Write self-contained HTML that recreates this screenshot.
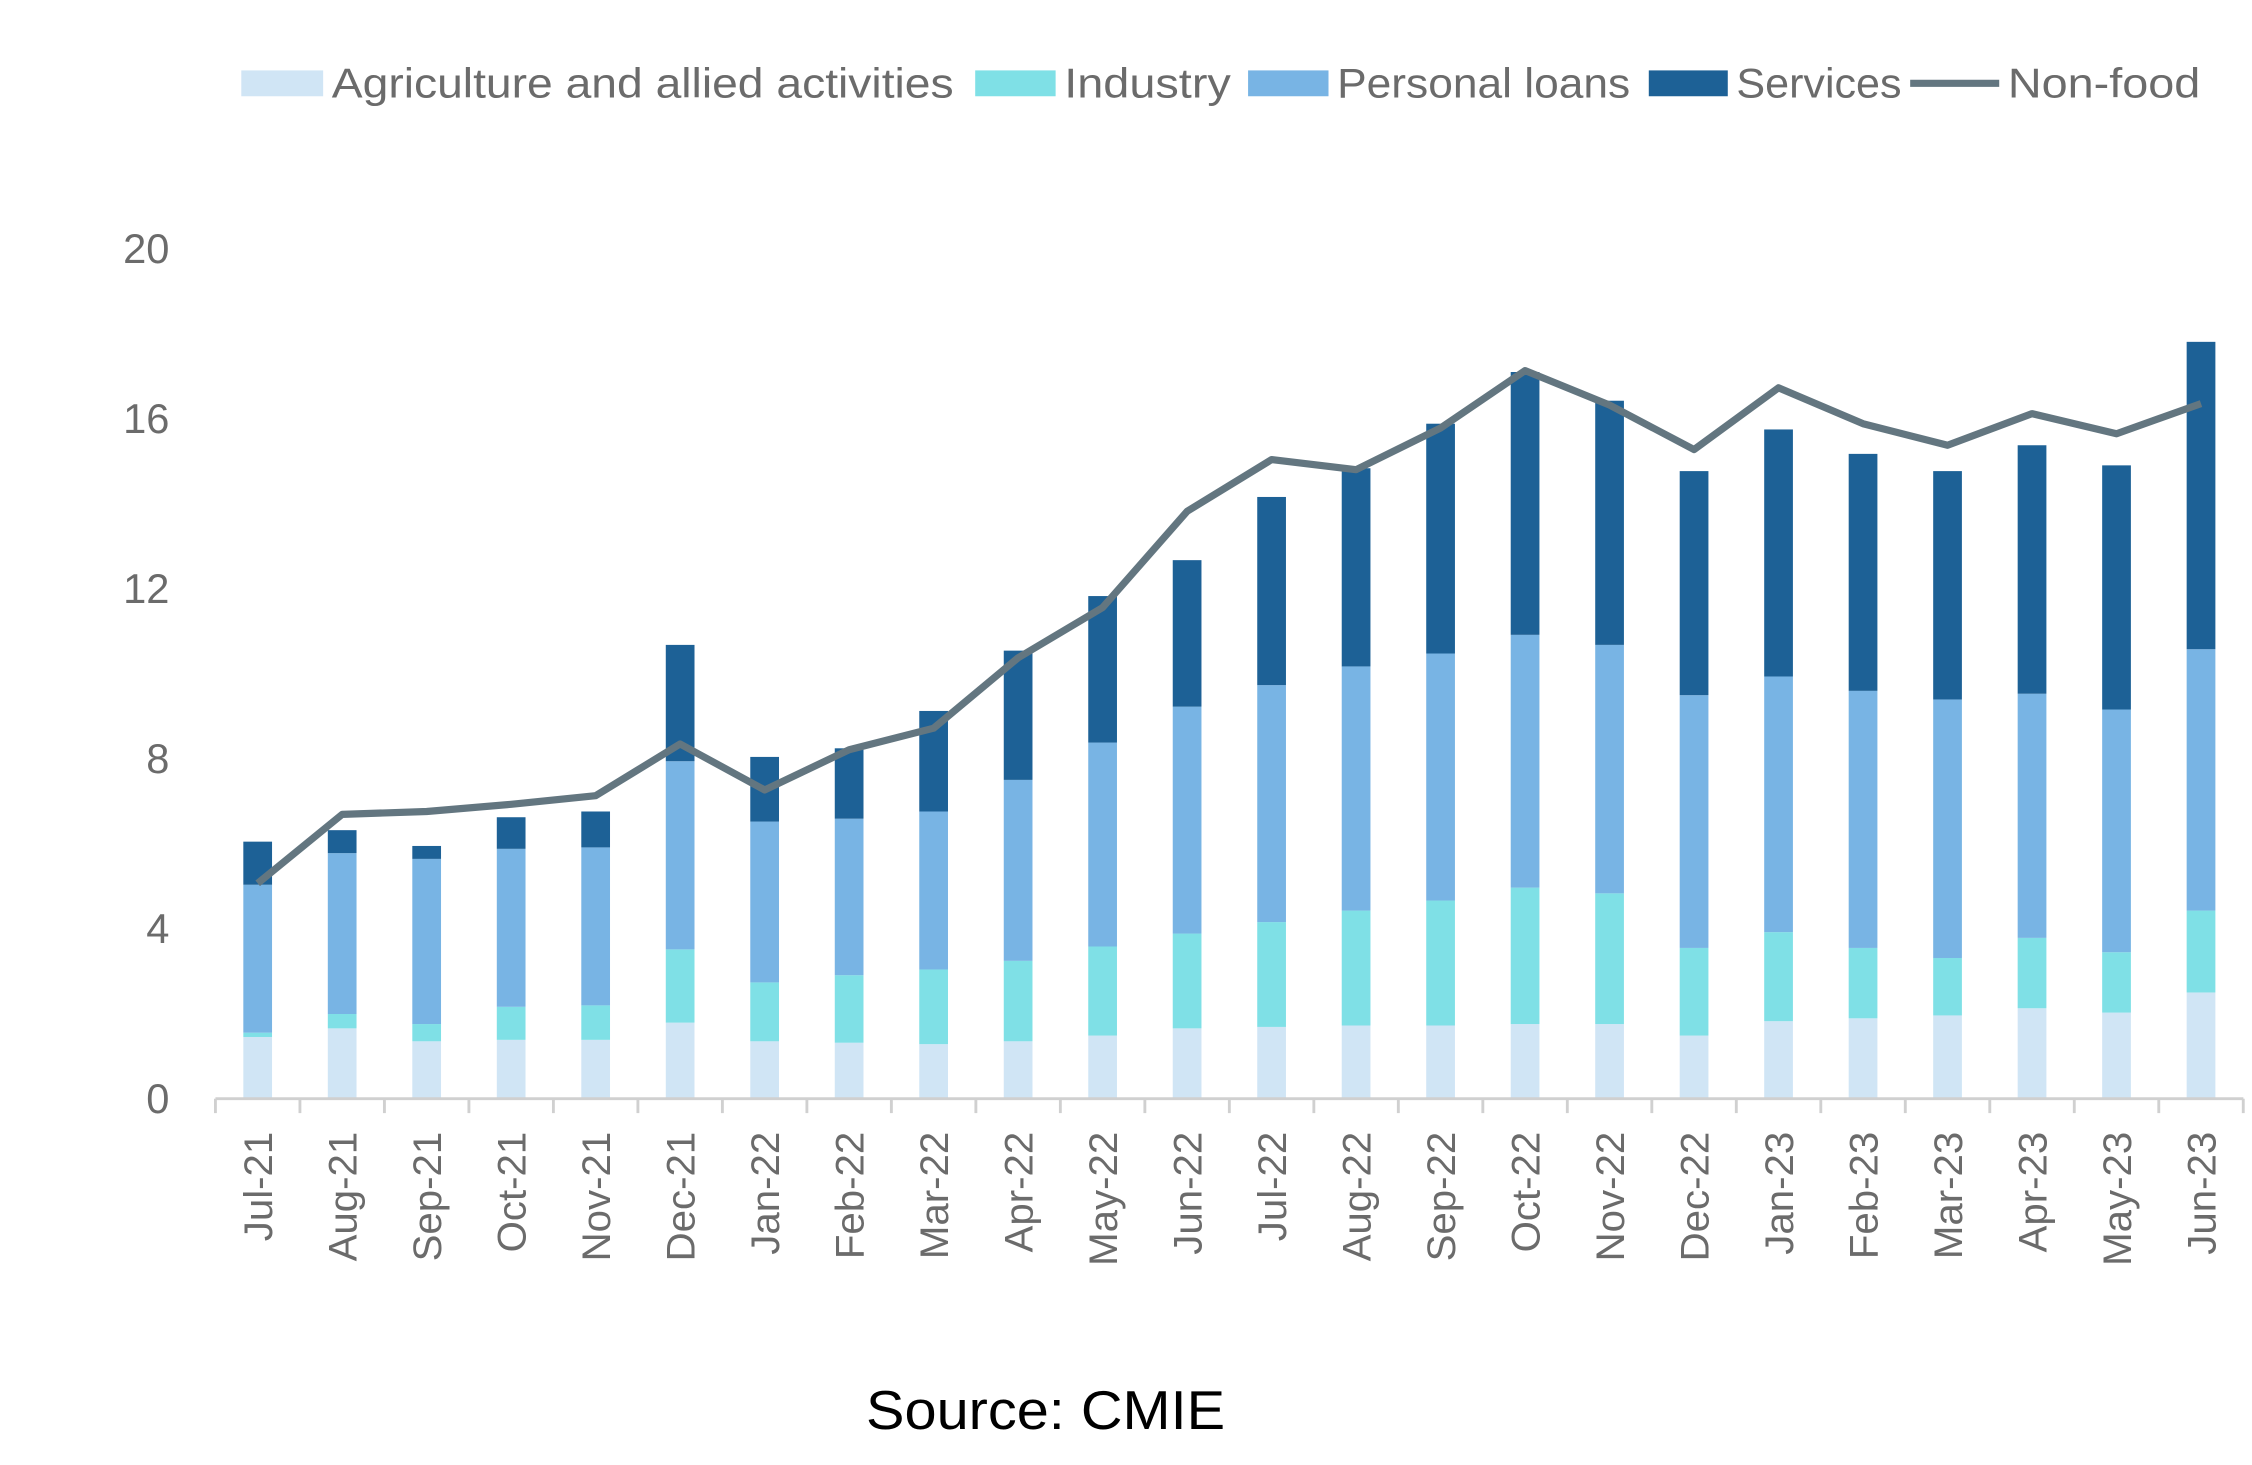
<!DOCTYPE html>
<html><head><meta charset="utf-8"><style>html,body{margin:0;padding:0;background:#fff}svg{display:block}</style></head>
<body>
<svg id="c" xmlns="http://www.w3.org/2000/svg" width="2252" height="1465" viewBox="0 0 1568 1020" font-family="Liberation Sans, sans-serif">
<rect width="1568" height="1020" fill="#fff"/>
<g font-size="29" fill="#6b6b6b">
<rect x="168" y="49" width="57" height="18" fill="#d0e5f5"/>
<text x="231" y="68" textLength="433" lengthAdjust="spacingAndGlyphs">Agriculture and allied activities</text>
<rect x="679" y="49" width="56" height="18" fill="#7fe0e6"/>
<text x="741" y="68" textLength="116" lengthAdjust="spacingAndGlyphs">Industry</text>
<rect x="869" y="49" width="56" height="18" fill="#78b4e4"/>
<text x="931" y="68" textLength="204" lengthAdjust="spacingAndGlyphs">Personal loans</text>
<rect x="1148" y="49" width="55" height="18" fill="#1d6196"/>
<text x="1209" y="68" textLength="115" lengthAdjust="spacingAndGlyphs">Services</text>
<line x1="1330" y1="58" x2="1392" y2="58" stroke="#637680" stroke-width="5"/>
<text x="1398" y="68" textLength="134" lengthAdjust="spacingAndGlyphs">Non-food</text>
</g>
<g id="bars"></g>
<line x1="150" y1="765" x2="1562" y2="765" stroke="#d0d0d0" stroke-width="2"/>
<g id="ticks"></g>
<g id="ylab" font-size="29" fill="#6b6b6b" text-anchor="end"></g>
<polyline id="ln" fill="none" stroke="#637680" stroke-width="5" stroke-linejoin="round"/>
<g id="xlab" font-size="28" fill="#6b6b6b"></g>
<text x="603" y="995" font-size="38" fill="#000" textLength="250" lengthAdjust="spacingAndGlyphs">Source: CMIE</text>
</svg>
<script>
var d=[[722,719,616,586,615],[716,706,594,578,567],[725,713,598,589,565],[724,701,591,569,560],[724,700,590,565,554],[712,661,530,449,518],[725,684,572,527,550],[726,679,570,521,522],[727,675,565,495,507],[725,669,543,453,458],[721,659,517,415,423],[716,650,492,390,356],[715,642,477,346,320],[714,634,464,326,327],[714,627,455,295,298],[713,618,442,259,258],[713,622,449,279,282],[721,660,484,328,313],[711,649,471,299,270],[709,660,481,316,295],[707,667,487,328,310],[702,653,483,310,288],[705,663,494,324,302],[691,634,452,238,281]];
var lab=["Jul-21","Aug-21","Sep-21","Oct-21","Nov-21","Dec-21","Jan-22","Feb-22","Mar-22","Apr-22","May-22","Jun-22","Jul-22","Aug-22","Sep-22","Oct-22","Nov-22","Dec-22","Jan-23","Feb-23","Mar-23","Apr-23","May-23","Jun-23"];
var col=["#d0e5f5","#7fe0e6","#78b4e4","#1d6196"];
var s="",t="",x="",pts=[],st=58.83;
for(var i=0;i<24;i++){var cx=150+st/2+i*st,prev=765;
for(var k=0;k<4;k++){var y=d[i][k];s+='<rect x="'+(cx-10)+'" y="'+y+'" width="20" height="'+(prev-y)+'" fill="'+col[k]+'"/>';prev=y;}
pts.push(cx+","+d[i][4]);
x+='<text transform="translate('+(cx+10)+',788) rotate(-90)" text-anchor="end">'+lab[i]+'</text>';}
for(var i=0;i<=24;i++){var tx=150+i*st;t+='<line x1="'+tx+'" y1="765" x2="'+tx+'" y2="775" stroke="#d0d0d0" stroke-width="2"/>';}
var yl="";for(var v=0;v<=20;v+=4){var yy=765-v*29.6;yl+='<text x="118" y="'+(yy+10)+'">'+v+'</text>';}
document.getElementById("bars").innerHTML=s;document.getElementById("ticks").innerHTML=t;
document.getElementById("xlab").innerHTML=x;document.getElementById("ylab").innerHTML=yl;
document.getElementById("ln").setAttribute("points",pts.join(" "));
</script>
</body></html>
